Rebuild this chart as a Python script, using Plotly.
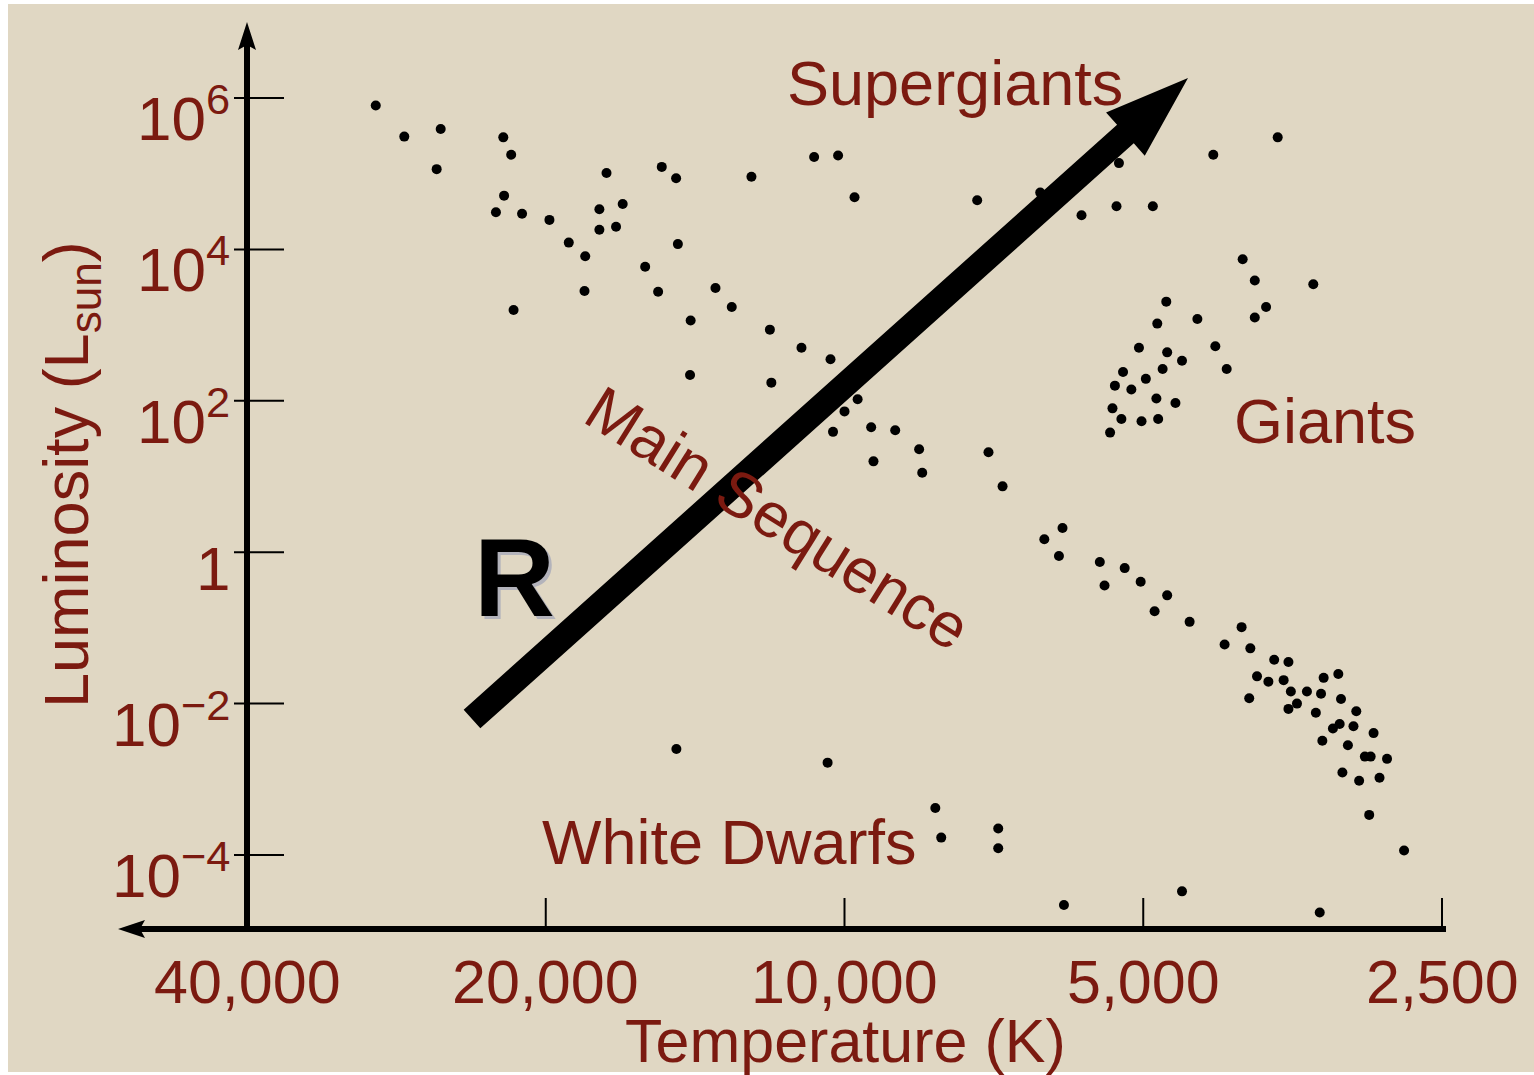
import numpy as np
import plotly.graph_objects as go

# ---------------- data (temperature in K, log10 luminosity in L_sun) ----------------
hot_stars_T = [29670, 27770, 25520, 25760, 22070, 21670, 22030, 22450, 21130, 19830,
               18960, 18250, 18280, 21550, 17370, 17660, 16730, 17660, 16990, 15280,
               14780, 14720, 15880, 15410, 13490, 12990, 14290, 14310, 12410, 10730,
               10150, 9770, 7350, 11890, 11850, 11050, 10330, 9700, 10000, 10270,
               9400, 8890, 8410, 9350, 8350, 7160, 6930]
hot_stars_logL = [5.90, 5.49, 5.59, 5.06, 5.48, 5.25, 4.71, 4.49, 4.47, 4.39,
                  4.09, 3.91, 3.45, 3.20, 5.01, 4.53, 4.60, 4.26, 4.30, 5.09,
                  4.94, 4.07, 3.77, 3.44, 3.49, 3.24, 3.06, 2.34, 4.96, 5.22,
                  5.24, 4.69, 4.65, 2.94, 2.24, 2.70, 2.55, 2.02, 1.86, 1.59,
                  1.65, 1.61, 1.36, 1.20, 1.05, 1.32, 0.87]

cool_supergiants_T = [6350, 5290, 5770, 5320, 4890, 4250, 3660]
cool_supergiants_logL = [4.75, 5.14, 4.45, 4.57, 4.57, 5.25, 5.48]

giants_T = [3970, 3860, 3370, 3760, 3860, 4740, 4840, 4410, 5050, 4730, 4570, 4230, 4120,
            5240, 4780, 4970, 5340, 5140, 4850, 4640, 5370, 5260, 5020, 4830, 5400]
giants_logL = [3.87, 3.59, 3.54, 3.24, 3.10, 3.31, 3.02, 3.08, 2.70, 2.64, 2.53, 2.72, 2.42,
               2.38, 2.42, 2.29, 2.20, 2.15, 2.03, 1.97, 1.90, 1.76, 1.73, 1.76, 1.58]

lower_ms_T = [6030, 6290, 6080, 5530, 5220, 5470, 5030, 4730, 4870, 4490,
              3980, 4140, 3900, 3690, 3570, 3840, 3740, 3610, 3290, 3180,
              3910, 3550, 3420, 3310, 3160, 3500, 3570, 3350, 3050, 3170,
              3220, 3070, 2930, 3300, 3110, 2990, 2950, 2840, 3150, 3030,
              2890, 2960, 2730]
lower_ms_logL = [0.32, 0.17, -0.05, -0.13, -0.21, -0.44, -0.39, -0.57, -0.78, -0.92,
                 -0.99, -1.22, -1.27, -1.42, -1.45, -1.64, -1.71, -1.69, -1.66, -1.61,
                 -1.93, -1.84, -1.84, -1.87, -1.94, -2.00, -2.07, -2.12, -2.10, -2.27,
                 -2.33, -2.30, -2.39, -2.49, -2.55, -2.70, -2.70, -2.73, -2.91, -3.02,
                 -2.98, -3.47, -3.94]

dwarfs_T = [14770, 10400, 8100, 7990, 7000, 7000, 6010, 4570, 3320]
dwarfs_logL = [-2.60, -2.78, -3.38, -3.77, -3.65, -3.91, -4.66, -4.48, -4.76]

x_tick_temps = [40000, 20000, 10000, 5000, 2500]
x_tick_text = ["40,000", "20,000", "10,000", "5,000", "2,500"]
y_tick_exps = [6, 4, 2, 0, -2, -4]
y_tick_text = ["10<sup>6</sup>", "10<sup>4</sup>", "10<sup>2</sup>", "1",
               "10<sup>\u22122</sup>", "10<sup>\u22124</sup>"]

region_text = ["Supergiants", "Giants", "Main Sequence", "White Dwarfs"]
region_T = [7740, 3280, 11670, 13050]
region_logL = [6.20, 1.73, 0.45, -3.83]
region_angle = [0, 0, 32, 0]

# ---------------- styling / calibration ----------------
W, H = 1534, 1075
PL, PR, PT, PB = 0, W, 0, H          # plotting area = whole page
X0_PX, T0 = 247, 40000.0
PX_PER_OCT = 298.75
Y0_PX, E0 = 98, 6.0
PX_PER_DEC = 75.7
TEXT = "#7b1a10"
BG = "#e0d7c3"
FONT = "Liberation Sans, Arial, sans-serif"


def lx(px):
    return np.log10(T0) - (px - X0_PX) / PX_PER_OCT * np.log10(2)


def ly(py):
    return E0 - (py - Y0_PX) / PX_PER_DEC


def paper_x(px):
    return (px - PL) / (PR - PL)


def paper_y(py):
    return (PB - py) / (PB - PT)


all_T = hot_stars_T + cool_supergiants_T + giants_T + lower_ms_T + dwarfs_T
all_logL = hot_stars_logL + cool_supergiants_logL + giants_logL + lower_ms_logL + dwarfs_logL

fig = go.Figure()
fig.add_trace(go.Scatter(
    x=np.log10(np.array(all_T, dtype=float)), y=all_logL, mode="markers",
    marker=dict(size=10, color="black", line=dict(width=0)),
    hoverinfo="skip", showlegend=False))

shapes = []
# beige panel with thin white border
shapes.append(dict(type="rect", xref="paper", yref="paper",
                   x0=paper_x(8), x1=paper_x(1534), y0=paper_y(1072), y1=paper_y(4),
                   fillcolor=BG, line=dict(width=0), layer="below"))

AXIS_Y = ly(929)
X_AX = np.log10(T0)
# x axis line + left arrowhead
shapes.append(dict(type="line", xref="x", yref="y", x0=lx(1446), x1=lx(135),
                   y0=AXIS_Y, y1=AXIS_Y, line=dict(color="black", width=6)))
shapes.append(dict(type="path", xref="x", yref="y",
                   path=f"M {lx(118)},{AXIS_Y} L {lx(145)},{ly(920)} L {lx(140)},{AXIS_Y} L {lx(145)},{ly(938)} Z",
                   fillcolor="black", line=dict(width=0)))
# y axis line + top arrowhead
shapes.append(dict(type="line", xref="x", yref="y", x0=X_AX, x1=X_AX,
                   y0=ly(932), y1=ly(40), line=dict(color="black", width=6)))
shapes.append(dict(type="path", xref="x", yref="y",
                   path=f"M {X_AX},{ly(22)} L {lx(238)},{ly(50)} L {X_AX},{ly(45)} L {lx(256)},{ly(50)} Z",
                   fillcolor="black", line=dict(width=0)))
# y ticks
for e in y_tick_exps:
    shapes.append(dict(type="line", xref="x", yref="y", x0=lx(234), x1=lx(284),
                       y0=e, y1=e, line=dict(color="black", width=2)))
# x ticks
for t in x_tick_temps[1:]:
    shapes.append(dict(type="line", xref="x", yref="y", x0=np.log10(t), x1=np.log10(t),
                       y0=ly(898), y1=AXIS_Y, line=dict(color="black", width=2)))

# big diagonal arrow (drawn in pixel geometry, converted to axis units)
tail = np.array([472.0, 719.0])
tip = np.array([1188.0, 78.0])
u = (tip - tail) / np.linalg.norm(tip - tail)
n = np.array([-u[1], u[0]])
base = tip - u * 84
sw, hw = 12.5, 29
pts = [tail + n * sw, base + n * sw, base + n * hw, tip, base - n * hw, base - n * sw, tail - n * sw]
path = "M " + " L ".join(f"{lx(p[0])},{ly(p[1])}" for p in pts) + " Z"
shapes.append(dict(type="path", xref="x", yref="y", path=path,
                   fillcolor="black", line=dict(width=0)))

annotations = []
# y tick labels
for e, txt in zip(y_tick_exps, y_tick_text):
    annotations.append(dict(x=lx(232), y=e, xref="x", yref="y", text=txt, showarrow=False,
                            xanchor="right", yanchor="middle", yshift=-16,
                            font=dict(size=62, color=TEXT, family=FONT)))
# x tick labels
for t, txt in zip(x_tick_temps, x_tick_text):
    annotations.append(dict(x=np.log10(t), y=ly(982), xref="x", yref="y", text=txt,
                            showarrow=False, xanchor="center", yanchor="middle",
                            font=dict(size=61, color=TEXT, family=FONT)))
# region labels
for txt, t, l, a in zip(region_text, region_T, region_logL, region_angle):
    annotations.append(dict(x=np.log10(t), y=l, xref="x", yref="y", text=txt, showarrow=False,
                            textangle=a, xanchor="center", yanchor="middle",
                            font=dict(size=63, color=TEXT, family=FONT)))
# R label with a soft drop shadow
annotations.append(dict(x=lx(517), y=ly(580), xref="x", yref="y", text="<b>R</b>", showarrow=False,
                        font=dict(size=112, color="#b3b3bb", family=FONT)))
annotations.append(dict(x=lx(514), y=ly(577), xref="x", yref="y", text="<b>R</b>", showarrow=False,
                        font=dict(size=112, color="black", family=FONT)))
# axis titles
annotations.append(dict(x=lx(845), y=ly(1041), xref="x", yref="y", text="Temperature (K)",
                        showarrow=False, xanchor="center", yanchor="middle",
                        font=dict(size=61, color=TEXT, family=FONT)))
annotations.append(dict(x=lx(70), y=ly(475), xref="x", yref="y", text="Luminosity (L<sub>sun</sub>)",
                        showarrow=False, textangle=-90, xanchor="center", yanchor="middle",
                        font=dict(size=63, color=TEXT, family=FONT)))

fig.update_layout(
    width=W, height=H, autosize=False,
    margin=dict(l=PL, r=W - PR, t=PT, b=H - PB, pad=0),
    paper_bgcolor="white", plot_bgcolor="rgba(0,0,0,0)",
    font=dict(family=FONT),
    xaxis=dict(range=[lx(PL), lx(PR)], visible=False, fixedrange=True),
    yaxis=dict(range=[ly(PB), ly(PT)], visible=False, fixedrange=True),
    shapes=shapes, annotations=annotations, showlegend=False,
)

fig.write_html("out.html")
